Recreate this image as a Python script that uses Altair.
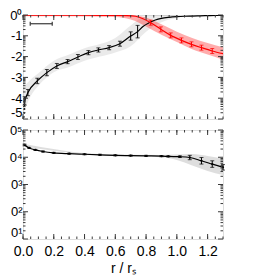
import altair as alt
import pandas as pd
import math

# ---------------- data ----------------
x_major = [0.0, 0.2, 0.4, 0.6, 0.8, 1.0, 1.2]
x_minor = [round(0.05 * i, 2) for i in range(27)]

# top panel (values are log10)
top_black_x = [0.011, 0.032, 0.093, 0.155, 0.22, 0.29, 0.357, 0.425, 0.49, 0.56, 0.63, 0.70, 0.745]
top_black_y = [-4.13, -3.73, -3.17, -2.77, -2.45, -2.24, -2.02, -1.81, -1.68, -1.57, -1.38, -1.01, -0.80]
top_black_err = [0.20, 0.15, 0.13, 0.15, 0.12, 0.10, 0.12, 0.10, 0.10, 0.10, 0.12, 0.20, 0.30]
top_tail_x = [0.745, 0.78, 0.82, 0.86, 0.90, 0.95, 1.00, 1.05, 1.10, 1.15, 1.20, 1.25, 1.30]
top_tail_y = [-0.80, -0.55, -0.37, -0.24, -0.16, -0.11, -0.08, -0.06, -0.05, -0.04, -0.03, -0.02, -0.02]
dash_x = [0.006, 0.012]
dash_y = [-4.95, -4.15]

red_x = [0.0, 0.1, 0.2, 0.3, 0.4, 0.5, 0.6, 0.67, 0.73, 0.78, 0.83, 0.896, 0.96, 1.03, 1.095, 1.16, 1.23, 1.30]
red_y = [-0.01, -0.01, -0.01, -0.01, -0.01, -0.015, -0.02, -0.03, -0.06, -0.18, -0.37, -0.69, -0.98, -1.22, -1.41, -1.57, -1.73, -1.86]
red_err_x = [0.83, 0.896, 0.96, 1.03, 1.095, 1.16, 1.23]
red_err_y = [-0.37, -0.69, -0.98, -1.22, -1.41, -1.57, -1.73]
red_err = [0.12, 0.12, 0.12, 0.12, 0.12, 0.12, 0.12]

red_band_x = [0.0, 0.3, 0.6, 0.7, 0.8, 0.9, 1.0, 1.1, 1.2, 1.3]
red_band_hi = [0.0, 0.0, 0.0, 0.0, -0.12, -0.45, -0.8, -1.1, -1.35, -1.55]
red_band_lo = [-0.06, -0.06, -0.1, -0.22, -0.55, -0.95, -1.3, -1.65, -1.9, -2.15]

gray_band_x = [0.0, 0.05, 0.1, 0.2, 0.3, 0.4, 0.5, 0.6, 0.7, 0.8, 0.9, 1.0]
gray_band_hi = [-3.5, -3.1, -2.8, -2.2, -1.9, -1.6, -1.4, -1.1, -0.5, -0.05, 0.0, 0.0]
gray_band_lo = [-4.8, -3.9, -3.4, -2.75, -2.5, -2.2, -2.0, -1.8, -1.5, -0.8, -0.35, -0.15]

bar_x = [0.047, 0.19]
bar_y = -0.42
bar_cap = 0.1

# bottom panel (values are log10)
bot_x = [0.01, 0.04, 0.08, 0.13, 0.2, 0.3, 0.4, 0.5, 0.6, 0.7, 0.8, 0.9, 0.944, 1.02, 1.084, 1.16, 1.23, 1.30]
bot_y = [4.45, 4.34, 4.27, 4.21, 4.16, 4.13, 4.11, 4.09, 4.07, 4.06, 4.05, 4.04, 4.03, 4.02, 3.99, 3.87, 3.75, 3.63]
bot_err = [0.03, 0.02, 0.02, 0.02, 0.02, 0.02, 0.02, 0.02, 0.02, 0.02, 0.02, 0.02, 0.02, 0.03, 0.08, 0.12, 0.12, 0.10]
bot_band_x = [0.0, 0.5, 0.9, 1.0, 1.1, 1.2, 1.3]
bot_band_hi = [4.5, 4.12, 4.08, 4.1, 4.12, 4.05, 3.95]
bot_band_lo = [4.4, 4.06, 4.0, 3.9, 3.7, 3.5, 3.35]

top_y_major = [-5, -4, -3, -2, -1, 0]
bot_y_major = [1, 2, 3, 4, 5]

# ---------------- styling ----------------
FONT = "Liberation Sans"
FR = "#3a3a3a"
W = 200
H_TOP = 104
H_BOT = 109

xs = alt.Scale(domain=[0, 1.3], nice=False, zero=False)
top_ys = alt.Scale(domain=[-5, 0], nice=False, zero=False)
bot_ys = alt.Scale(domain=[1, 5], nice=False, zero=False)


def minor_log(major):
    out = []
    for n in major[:-1]:
        for k in range(2, 10):
            out.append(n + math.log10(k))
    return out


top_y_axis = alt.Axis(
    title=None, values=top_y_major,
    labelExpr="datum.value == 0 ? '0⁰' : '' + datum.value",
    ticks=False, domain=False, grid=False, labelFontSize=13, labelPadding=1,
    labelBaseline=alt.condition("datum.value == -5", alt.value("bottom"), alt.value("middle")),
)
bot_y_axis = alt.Axis(
    title=None, values=bot_y_major,
    labelExpr="'0' + (datum.value == 1 ? '¹' : datum.value == 2 ? '²' : datum.value == 3 ? '³' : datum.value == 4 ? '⁴' : '⁵')",
    ticks=False, domain=False, grid=False, labelFontSize=13, labelPadding=1,
    labelBaseline=alt.condition("datum.value == 1", alt.value("bottom"), alt.value("middle")),
)
bot_x_axis = alt.Axis(
    title="r / rₛ", values=x_major, format=".1f", ticks=False, domain=False, grid=False,
    labelFontSize=14, labelPadding=5, titleFontSize=14, titlePadding=3, labelFlush=False,
    titleFontWeight="normal",
)


def ticks_layers(H, ysc, yaxis, xaxis, y_major):
    layers = []
    ym = pd.DataFrame({"y": y_major})
    yn = pd.DataFrame({"y": minor_log(y_major)})
    xm = pd.DataFrame({"x": x_major})
    xn = pd.DataFrame({"x": x_minor})
    for df, L in ((ym, 5), (yn, 2.5)):
        for x0, x1 in ((0, L), (W, W - L)):
            layers.append(alt.Chart(df).mark_rule(color=FR, strokeWidth=1).encode(
                y=alt.Y("y:Q", scale=ysc, axis=yaxis), x=alt.value(x0), x2=alt.value(x1)))
    for df, L in ((xm, 5), (xn, 2.5)):
        for y0, y1 in ((0, L), (H, H - L)):
            layers.append(alt.Chart(df).mark_rule(color=FR, strokeWidth=1).encode(
                x=alt.X("x:Q", scale=xs, axis=xaxis), y=alt.value(y0), y2=alt.value(y1)))
    return layers


def errbar_layers(xv, yv, ev, color, ysc, yaxis, xaxis):
    df = pd.DataFrame({"x": xv, "lo": [a - e for a, e in zip(yv, ev)], "hi": [a + e for a, e in zip(yv, ev)]})
    rule = alt.Chart(df).mark_rule(color=color, strokeWidth=1).encode(
        x=alt.X("x:Q", scale=xs, axis=xaxis), y=alt.Y("lo:Q", scale=ysc, axis=yaxis), y2="hi:Q")
    cap1 = alt.Chart(df).mark_tick(color=color, orient="horizontal", size=4, thickness=1).encode(
        x=alt.X("x:Q", scale=xs, axis=xaxis), y=alt.Y("lo:Q", scale=ysc, axis=yaxis))
    cap2 = alt.Chart(df).mark_tick(color=color, orient="horizontal", size=4, thickness=1).encode(
        x=alt.X("x:Q", scale=xs, axis=xaxis), y=alt.Y("hi:Q", scale=ysc, axis=yaxis))
    return [rule, cap1, cap2]


# ---------------- top panel ----------------
xa_top = None
gband = alt.Chart(pd.DataFrame({"x": gray_band_x, "lo": gray_band_lo, "hi": gray_band_hi})).mark_area(
    color="#a0a0a0", opacity=0.22, interpolate="monotone", clip=True).encode(
    x=alt.X("x:Q", scale=xs, axis=xa_top), y=alt.Y("lo:Q", scale=top_ys, axis=top_y_axis), y2="hi:Q")
rband = alt.Chart(pd.DataFrame({"x": red_band_x, "lo": red_band_lo, "hi": red_band_hi})).mark_area(
    color="#ff3030", opacity=0.4, interpolate="monotone", clip=True).encode(
    x=alt.X("x:Q", scale=xs, axis=xa_top), y=alt.Y("lo:Q", scale=top_ys, axis=top_y_axis), y2="hi:Q")

black_df = pd.DataFrame({"x": top_black_x[:-1] + top_tail_x, "y": top_black_y[:-1] + top_tail_y})
bline = alt.Chart(black_df).mark_line(color="black", strokeWidth=1.2, interpolate="monotone", clip=True).encode(
    x=alt.X("x:Q", scale=xs, axis=xa_top), y=alt.Y("y:Q", scale=top_ys, axis=top_y_axis))
dline = alt.Chart(pd.DataFrame({"x": dash_x, "y": dash_y})).mark_line(
    color="black", strokeWidth=1, strokeDash=[2, 2], clip=True).encode(
    x=alt.X("x:Q", scale=xs, axis=xa_top), y=alt.Y("y:Q", scale=top_ys, axis=top_y_axis))
rline = alt.Chart(pd.DataFrame({"x": red_x, "y": red_y})).mark_line(
    color="#ff0000", strokeWidth=1.2, interpolate="monotone", clip=True).encode(
    x=alt.X("x:Q", scale=xs, axis=xa_top), y=alt.Y("y:Q", scale=top_ys, axis=top_y_axis))

sbar = alt.Chart(pd.DataFrame({"x": [bar_x[0]], "x2": [bar_x[1]], "y": [bar_y]})).mark_rule(
    color=FR, strokeWidth=1.2).encode(
    x=alt.X("x:Q", scale=xs, axis=xa_top), x2="x2:Q", y=alt.Y("y:Q", scale=top_ys, axis=top_y_axis))
scap = alt.Chart(pd.DataFrame({"x": bar_x, "lo": [bar_y - bar_cap] * 2, "hi": [bar_y + bar_cap] * 2})).mark_rule(
    color=FR, strokeWidth=1.2).encode(
    x=alt.X("x:Q", scale=xs, axis=xa_top), y=alt.Y("lo:Q", scale=top_ys, axis=top_y_axis), y2="hi:Q")

top_layers = [gband, rband, bline, dline, rline]
top_layers += errbar_layers(top_black_x, top_black_y, top_black_err, "black", top_ys, top_y_axis, xa_top)
top_layers += errbar_layers(red_err_x, red_err_y, red_err, "#ff0000", top_ys, top_y_axis, xa_top)
top_layers += [sbar, scap]
top_layers += ticks_layers(H_TOP, top_ys, top_y_axis, xa_top, top_y_major)
top = alt.layer(*top_layers).properties(width=W, height=H_TOP)

# ---------------- bottom panel ----------------
bband = alt.Chart(pd.DataFrame({"x": bot_band_x, "lo": bot_band_lo, "hi": bot_band_hi})).mark_area(
    color="#a0a0a0", opacity=0.35, interpolate="monotone", clip=True).encode(
    x=alt.X("x:Q", scale=xs, axis=bot_x_axis), y=alt.Y("lo:Q", scale=bot_ys, axis=bot_y_axis), y2="hi:Q")
bdf = pd.DataFrame({"x": bot_x, "y": bot_y})
bl = alt.Chart(bdf).mark_line(color="black", strokeWidth=1.2, interpolate="monotone", clip=True).encode(
    x=alt.X("x:Q", scale=xs, axis=bot_x_axis), y=alt.Y("y:Q", scale=bot_ys, axis=bot_y_axis))
bp = alt.Chart(bdf).mark_point(color="black", filled=True, size=5, opacity=1).encode(
    x=alt.X("x:Q", scale=xs, axis=bot_x_axis), y=alt.Y("y:Q", scale=bot_ys, axis=bot_y_axis))
bot_layers = [bband, bl, bp]
bot_layers += errbar_layers(bot_x, bot_y, bot_err, "black", bot_ys, bot_y_axis, bot_x_axis)
bot_layers += ticks_layers(H_BOT, bot_ys, bot_y_axis, bot_x_axis, bot_y_major)
bottom = alt.layer(*bot_layers).properties(width=W, height=H_BOT)

chart = alt.vconcat(top, bottom, spacing=3).properties(
    padding={"left": 0, "top": 0, "right": 5, "bottom": 0}
).configure_view(stroke=FR, strokeWidth=1.6).configure(
    font=FONT
).configure_axis(labelFont=FONT, titleFont=FONT, labelColor="black", titleColor="black")

chart.save("out.html", embed_options={"renderer": "svg", "actions": False})
